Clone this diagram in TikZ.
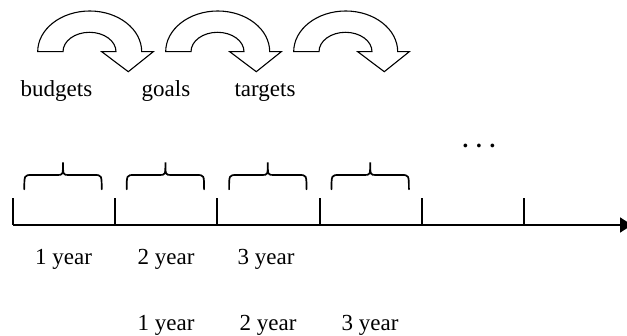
\documentclass[tikz,border=0pt]{standalone}
\usepackage{fontspec}
\setmainfont{Liberation Serif}
\usetikzlibrary{arrows.meta}
\begin{document}
\begin{tikzpicture}[x=1pt,y=1pt,
  lbl/.style={inner sep=0pt, anchor=base, font=\fontsize{23}{27}\selectfont},
  turn/.style={draw=black, line width=1.1pt, line join=miter, fill=white},
  axis/.style={line width=1.8pt},
  tickmark/.style={line width=1.8pt},
  yearbrace/.style={line width=1.7pt, line cap=round}]
\useasboundingbox (0,0) rectangle (627,335);
\fill[white] (0,0) rectangle (627,335);

% curved "turn" arrows
\foreach \dx in {0,128,256}{
  \begin{scope}[xshift=\dx pt]
  \draw[turn] (37.7,283.3) arc[start angle=180,end angle=0,x radius=52pt,y radius=40.7pt]
    -- (153.3,283.3) -- (128.3,263.3) -- (101.7,283.3) -- (116,283.3)
    arc[start angle=0,end angle=180,x radius=26.5pt,y radius=19.4pt] -- cycle;
  \end{scope}
}

% labels under the arrows
\node[lbl] (budgets) at (56.5,238.3) {budgets};
\node[lbl] (goals)   at (166,238.3)  {goals};
\node[lbl] (targets) at (265,238.3)  {targets};

% time axis
\foreach \k in {0,...,5}
  \coordinate (t\k) at ({12.7+102.3*\k},110);
\coordinate (tend) at (632,110);
\draw[axis,-{Triangle[length=12pt,width=15pt]}] (t0) -- (tend);
\foreach \k in {0,...,5}
  \draw[tickmark] (t\k) -- ++(0,27.3);

% braces over the first four intervals
\foreach \k in {0,...,3}{
  \pgfmathsetmacro{\c}{63+102.4*\k}
  \draw[yearbrace] ({\c-38.7},145.7) .. controls ({\c-38.7},160) .. ({\c-31},160)
    -- ({\c-6},160) .. controls (\c,160) .. (\c,172.7)
    .. controls (\c,160) .. ({\c+6},160) -- ({\c+31},160)
    .. controls ({\c+38.7},160) .. ({\c+38.7},145.7);
}

\node[lbl,font=\fontsize{23}{27}\selectfont\bfseries] (more) at (479,187.5) {. . .};

% year labels
\node[lbl] (ya1) at (63.5,70) {1 year};
\node[lbl] (ya2) at (166,70)  {2 year};
\node[lbl] (ya3) at (266,70)  {3 year};
\node[lbl] (yb1) at (166,5)   {1 year};
\node[lbl] (yb2) at (268,5)   {2 year};
\node[lbl] (yb3) at (370,5)   {3 year};
\end{tikzpicture}
\end{document}
